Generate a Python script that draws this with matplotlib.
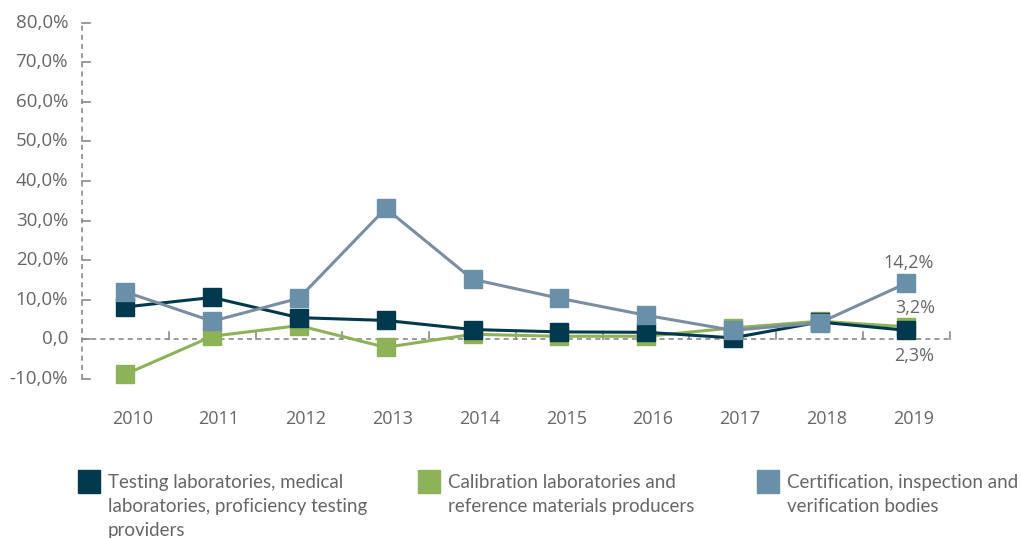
import matplotlib
matplotlib.use("Agg")
import matplotlib.pyplot as plt
import numpy as np

years = ["2010", "2011", "2012", "2013", "2014", "2015", "2016", "2017", "2018", "2019"]
testing = [8.2, 10.6, 5.5, 4.8, 2.5, 1.9, 1.8, 0.4, 4.4, 2.3]
calibration = [-8.8, 0.8, 3.5, -2.0, 1.3, 0.8, 0.8, 2.9, 4.6, 3.2]
certification = [12.0, 4.6, 10.4, 33.1, 15.2, 10.4, 6.1, 2.3, 4.2, 14.2]
series_names = [
    "Testing laboratories, medical\nlaboratories, proficiency testing\nproviders",
    "Calibration laboratories and\nreference materials producers",
    "Certification, inspection and\nverification bodies",
]
yticks = [-10, 0, 10, 20, 30, 40, 50, 60, 70, 80]
ytick_labels = ["-10,0%", "0,0", "10,0%", "20,0%", "30,0%", "40,0%", "50,0%", "60,0%", "70,0%", "80,0%"]

c_dark = "#00384d"
c_green = "#8db258"
c_blue = "#6a8fa8"
c_blue_line = "#7b8ea1"
c_text = "#666666"
c_axis = "#8a8a8a"

plt.rcParams['font.family'] = ['Lato', 'DejaVu Sans']
num_font = ['Open Sans', 'DejaVu Sans']

fig = plt.figure(figsize=(10.21, 5.38), dpi=100)
ax = fig.add_axes([0.0803, 0.2955, 0.850, 0.6623])
n = len(years)
x = np.arange(n)
ax.set_xlim(-0.5, n - 0.5)
ax.set_ylim(-10, 80)
for s in ax.spines.values():
    s.set_visible(False)
ax.set_xticks([])
ax.set_yticks([])

# y axis dashed
ax.plot([-0.5, -0.5], [-10, 80], ls=(0, (3, 2.5)), color=c_axis, lw=1.2, clip_on=False)
for v in yticks:
    ax.plot([-0.5, -0.41], [v, v], color=c_axis, lw=1.2, clip_on=False)
ax.plot([-0.5, n - 0.5], [0, 0], ls=(0, (3, 2.5)), color=c_axis, lw=1.2, clip_on=False)
for b in np.arange(0.5, n, 1.0):
    ax.plot([b, b], [0, 2.0], color=c_axis, lw=1.2, clip_on=False)

for v, lab in zip(yticks, ytick_labels):
    ax.text(-0.66, v, lab, ha="right", va="center", fontsize=13.5, color=c_text, family=num_font)
for xi, lab in zip(x, years):
    ax.text(xi + 0.08, -20.0, lab, ha="center", va="center", fontsize=13, color=c_text, family=num_font)

ms = 12.5
ax.plot(x, calibration, color=c_green, lw=2.2, marker="s", ms=ms, zorder=3, clip_on=False)
ax.plot(x, testing, color=c_dark, lw=2.2, marker="s", ms=ms, zorder=4, clip_on=False)
ax.plot(x, certification, color=c_blue_line, lw=2.2, marker="s", ms=ms, mfc=c_blue, mec=c_blue, zorder=5, clip_on=False)

ax.text(x[-1] + 0.03, certification[-1] + 5.2, "14,2%", ha="center", va="center", fontsize=13, color=c_text, family=num_font)
ax.text(x[-1] + 0.1, calibration[-1] + 4.8, "3,2%", ha="center", va="center", fontsize=13, color=c_text, family=num_font)
ax.text(x[-1] + 0.09, testing[-1] - 6.6, "2,3%", ha="center", va="center", fontsize=13, color=c_text, family=num_font)

# legend
leg_colors = [c_dark, c_green, c_blue]
leg_x = [78, 418, 757]
for lx, col, name in zip(leg_x, leg_colors, series_names):
    fig.patches.append(plt.Rectangle((lx / 1021, 1 - 493 / 538), 22 / 1021, 23 / 538,
                                     transform=fig.transFigure, color=col))
    fig.text((lx + 30) / 1021, 1 - 474 / 538, name, ha="left", va="top", fontsize=13.5,
             color=c_text, linespacing=1.5)

fig.savefig("out.png", dpi=100)
